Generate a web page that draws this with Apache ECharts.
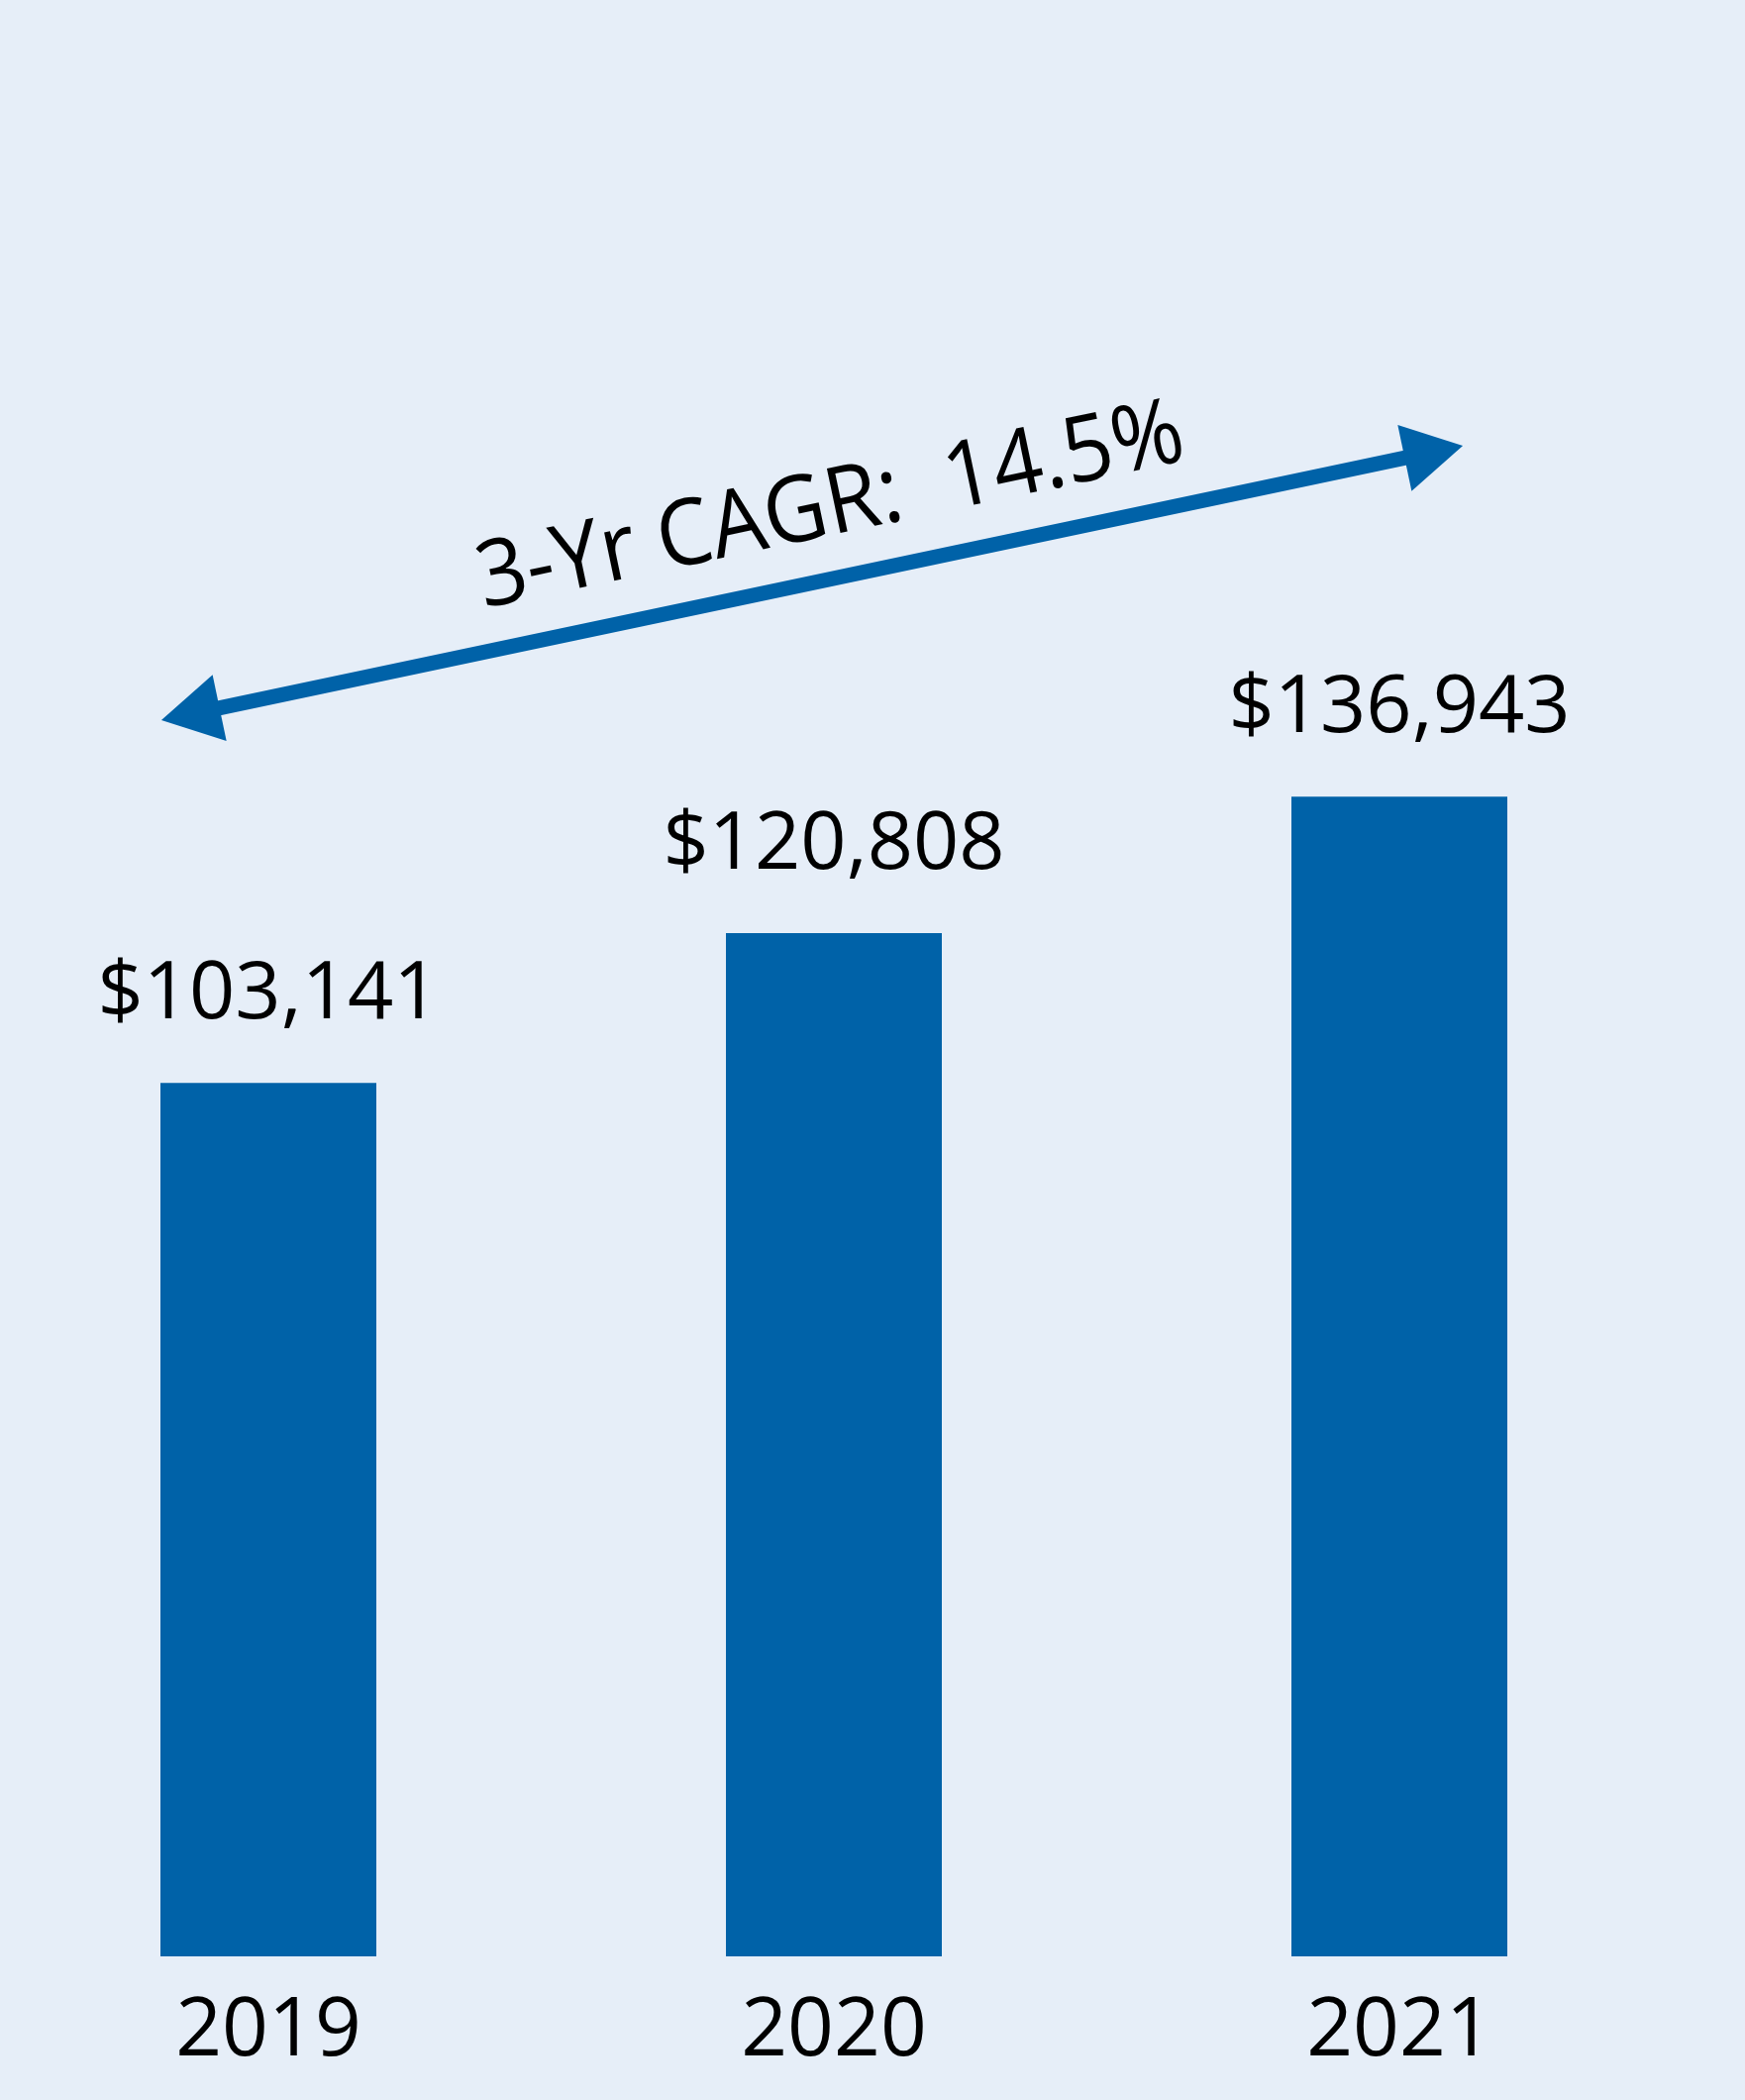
<!DOCTYPE html>
<html>
<head>
<meta charset="utf-8">
<script src="https://cdn.jsdelivr.net/npm/echarts@6/dist/echarts.min.js"></script>
<style>
html,body{margin:0;padding:0;background:#E6EEF8;}
#chart{width:1762px;height:2120px;}
</style>
</head>
<body>
<div id="chart"></div>
<script>
var categories = ['2019', '2020', '2021'];
var revenue = [103141, 120808, 136943];
var cagrLabel = '3-Yr CAGR:  14.5%';

var FONT = '"Open Sans", "Noto Sans", sans-serif';
var BLUE = '#0062A8';

var chart = echarts.init(document.getElementById('chart'));

var angle = Math.atan2(277, 1314);
var len = 1343;
var headL = 60, headW = 34;

chart.setOption({
  backgroundColor: '#E6EEF8',
  animation: false,
  grid: { left: 271, width: 1142, top: 265, bottom: 145, containLabel: false },
  xAxis: {
    type: 'category',
    data: categories,
    boundaryGap: false,
    axisLine: { show: false },
    axisTick: { show: false },
    splitLine: { show: false },
    axisLabel: { margin: 36, color: '#000', fontFamily: FONT, fontSize: 82 }
  },
  yAxis: {
    type: 'value', min: 0, max: 200000,
    show: false,
    splitLine: { show: false }
  },
  series: [{
    type: 'bar',
    data: revenue,
    barWidth: 218,
    itemStyle: { color: BLUE },
    label: {
      show: true, position: 'top', distance: 48,
      color: '#000', fontFamily: FONT, fontSize: 81,
      formatter: function (p) { return '$' + p.value.toLocaleString('en-US'); }
    }
  }],
  graphic: [{
    type: 'group',
    x: 820, y: 588.5,
    rotation: angle,
    children: [
      { type: 'line', shape: { x1: -len / 2 + headL - 2, y1: 0, x2: len / 2 - headL + 2, y2: 0 },
        style: { stroke: BLUE, lineWidth: 15 } },
      { type: 'polygon', shape: { points: [[-len / 2, 0], [-len / 2 + headL, -headW], [-len / 2 + headL, headW]] },
        style: { fill: BLUE } },
      { type: 'polygon', shape: { points: [[len / 2, 0], [len / 2 - headL, -headW], [len / 2 - headL, headW]] },
        style: { fill: BLUE } },
      { type: 'text', x: 34, y: -70, scaleX: 0.94,
        style: { text: cagrLabel, fill: '#000', font: '93px ' + FONT, align: 'center', verticalAlign: 'middle' } }
    ]
  }]
});
</script>
</body>
</html>
